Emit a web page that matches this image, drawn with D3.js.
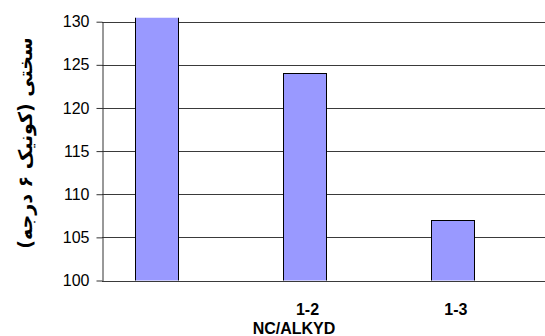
<!DOCTYPE html>
<html>
<head>
<meta charset="utf-8">
<script src="https://cdn.jsdelivr.net/npm/d3@7"></script>
<style>
  html, body { margin: 0; padding: 0; background: #fff; }
  svg { display: block; }
  .tick text { font-family: "Liberation Sans", Arial, sans-serif; }
</style>
</head>
<body>
<div id="chart"></div>
<script>
// Données
const categories = ["1-1", "1-2", "1-3"];
const tickLabels = ["", "1-2", "1-3"];
const hardness = [140, 124, 107];
const yTicks = [100, 105, 110, 115, 120, 125, 130];
const xTitle = "NC/ALKYD";
const yTitle = "سختی (کونیک ۶ درجه)";

// Dimensions
const width = 545, height = 336;
const plotLeft = 102, plotRight = 545, plotTop = 21.7, plotBottom = 280.5;

const svg = d3.select("#chart").append("svg")
    .attr("width", width)
    .attr("height", height);

const y = d3.scaleLinear().domain([100, 130]).range([plotBottom, plotTop]);
const x = d3.scaleBand().domain(categories)
    .range([82, 527])
    .paddingInner(0.71)
    .paddingOuter(0.355);

// Grille
svg.append("g").selectAll("line")
    .data(yTicks)
    .join("line")
    .attr("x1", plotLeft).attr("x2", plotRight)
    .attr("y1", d => Math.round(y(d)) + 0.5)
    .attr("y2", d => Math.round(y(d)) + 0.5)
    .attr("stroke", "#3a3a3a")
    .attr("stroke-width", 1);

// Zone de découpe (la première barre dépasse 130)
svg.append("clipPath").attr("id", "clip")
    .append("rect")
    .attr("x", plotLeft).attr("y", plotTop - 4)
    .attr("width", plotRight - plotLeft)
    .attr("height", plotBottom - plotTop + 4);

// Barres
svg.append("g").attr("clip-path", "url(#clip)")
    .selectAll("rect")
    .data(hardness)
    .join("rect")
    .attr("x", (d, i) => Math.round(x(categories[i])) + 0.5)
    .attr("y", d => Math.round(y(d)) + 0.5)
    .attr("width", Math.round(x.bandwidth()))
    .attr("height", d => Math.round(plotBottom) - Math.round(y(d)))
    .attr("fill", "#9999ff")
    .attr("stroke", "#000")
    .attr("stroke-width", 1);

// Axe Y
const yAxis = svg.append("g")
    .attr("transform", `translate(${plotLeft + 0.5},0)`)
    .call(d3.axisLeft(y).tickValues(yTicks).tickSize(6).tickPadding(7).tickSizeOuter(0));
yAxis.select(".domain").attr("stroke", "#333");
yAxis.selectAll(".tick line").attr("stroke", "#333");
yAxis.selectAll(".tick text")
    .attr("font-size", 16)
    .attr("fill", "#000");

// Axe X (étiquettes seulement)
const xAxis = svg.append("g")
    .attr("transform", `translate(3,${plotBottom})`)
    .call(d3.axisBottom(x).tickSize(0).tickPadding(23)
        .tickFormat((d, i) => tickLabels[i]));
xAxis.select(".domain").remove();
xAxis.selectAll(".tick text")
    .attr("font-size", 16)
    .attr("font-weight", "bold")
    .attr("fill", "#000");

// Titres
svg.append("text")
    .attr("x", 294).attr("y", 334)
    .attr("text-anchor", "middle")
    .attr("font-family", "'Liberation Sans', Arial, sans-serif")
    .attr("font-size", 16)
    .attr("font-weight", "bold")
    .text(xTitle);

svg.append("text")
    .attr("transform", "translate(32,143) rotate(-90)")
    .attr("text-anchor", "middle")
    .attr("direction", "rtl")
    .attr("font-family", "'DejaVu Sans', sans-serif")
    .attr("font-size", 19)
    .attr("font-weight", "bold")
    .text(yTitle);
</script>
</body>
</html>
